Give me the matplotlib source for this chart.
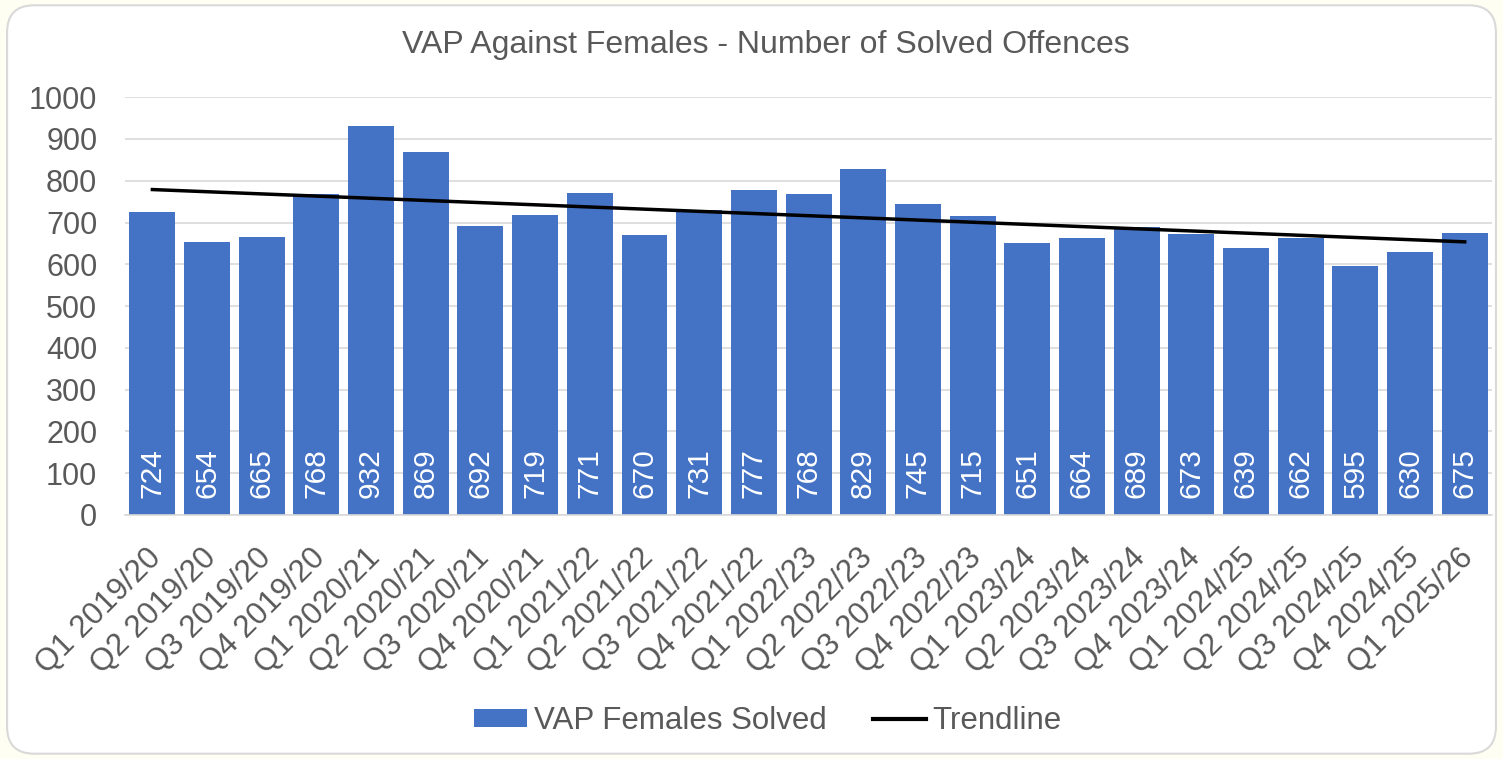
import numpy as np
import matplotlib
matplotlib.use("Agg")
import matplotlib.pyplot as plt
import matplotlib.transforms as mtransforms
from matplotlib.patches import FancyBboxPatch
from matplotlib.lines import Line2D
from matplotlib.patches import Patch

categories = ["Q1 2019/20", "Q2 2019/20", "Q3 2019/20", "Q4 2019/20",
              "Q1 2020/21", "Q2 2020/21", "Q3 2020/21", "Q4 2020/21",
              "Q1 2021/22", "Q2 2021/22", "Q3 2021/22", "Q4 2021/22",
              "Q1 2022/23", "Q2 2022/23", "Q3 2022/23", "Q4 2022/23",
              "Q1 2023/24", "Q2 2023/24", "Q3 2023/24", "Q4 2023/24",
              "Q1 2024/25", "Q2 2024/25", "Q3 2024/25", "Q4 2024/25",
              "Q1 2025/26"]
solved = [724, 654, 665, 768, 932, 869, 692, 719, 771, 670, 731, 777, 768,
          829, 745, 715, 651, 664, 689, 673, 639, 662, 595, 630, 675]
yticks = [0, 100, 200, 300, 400, 500, 600, 700, 800, 900, 1000]

plt.rcParams['font.family'] = ['Liberation Sans', 'DejaVu Sans']
text_col = '#595959'
bar_col = '#4472C4'

fig = plt.figure(figsize=(15.03, 7.59), dpi=100)
fig.patch.set_facecolor('#FEFEF2')
box = FancyBboxPatch((0.0047, 0.007), 0.9906, 0.986, boxstyle="round,pad=0,rounding_size=0.018",
                     transform=fig.transFigure, facecolor='white', edgecolor='#D9D9D9',
                     linewidth=1.5, mutation_aspect=1503/759, zorder=-5)
fig.patches.append(box)

ax = fig.add_axes([0.0832, 0.3215, 0.9095, 0.5505])
ax.set_zorder(2)
ax.set_facecolor('none')
x = np.arange(len(categories))
ax.bar(x, solved, width=0.84, color=bar_col, zorder=2)
coef = np.polyfit(x, solved, 1)
trend = np.polyval(coef, x)
ax.plot(x, trend, color='black', linewidth=2.5, zorder=3)

for xi, v in zip(x, solved):
    ax.text(xi, 40, str(v), rotation=90, ha='center', va='bottom', color='white',
            fontsize=21.5, zorder=4)

ax.set_xlim(-0.5, len(categories) - 0.5)
ax.set_ylim(0, 1000)
ax.set_yticks(yticks)
ax.set_yticklabels([str(t) for t in yticks], fontsize=22, color=text_col)
ax.yaxis.grid(True, color='#D9D9D9', linewidth=1.2, zorder=0)
ax.set_axisbelow(True)
ax.set_xticks(x)
ax.set_xticklabels(categories, rotation=45, ha='right', rotation_mode='anchor',
                   fontsize=22.5, color=text_col)
ax.tick_params(axis='y', length=0, pad=20)
ax.tick_params(axis='x', length=0, pad=20)
shift = mtransforms.ScaledTranslation(-6 / 100, 0, fig.dpi_scale_trans)
for lbl in ax.get_xticklabels():
    lbl.set_transform(lbl.get_transform() + shift)
for s in ['top', 'right', 'left']:
    ax.spines[s].set_visible(False)
ax.spines['bottom'].set_color('#D9D9D9')
ax.spines['bottom'].set_linewidth(1.2)

fig.text(0.5095, 0.941, "VAP Against Females - Number of Solved Offences", ha='center',
         va='center', fontsize=23, color=text_col)

handles = [Patch(facecolor=bar_col, label='VAP Females Solved'),
           Line2D([0], [0], color='black', linewidth=3, label='Trendline')]
leg = fig.legend(handles=handles, loc='center', bbox_to_anchor=(0.511, 0.05), ncol=2,
                 frameon=False, fontsize=22.5, handlelength=1.7, handleheight=0.55,
                 columnspacing=1.5, handletextpad=0.2)
for t in leg.get_texts():
    t.set_color(text_col)

fig.savefig('out.png', dpi=100, facecolor=fig.get_facecolor())
